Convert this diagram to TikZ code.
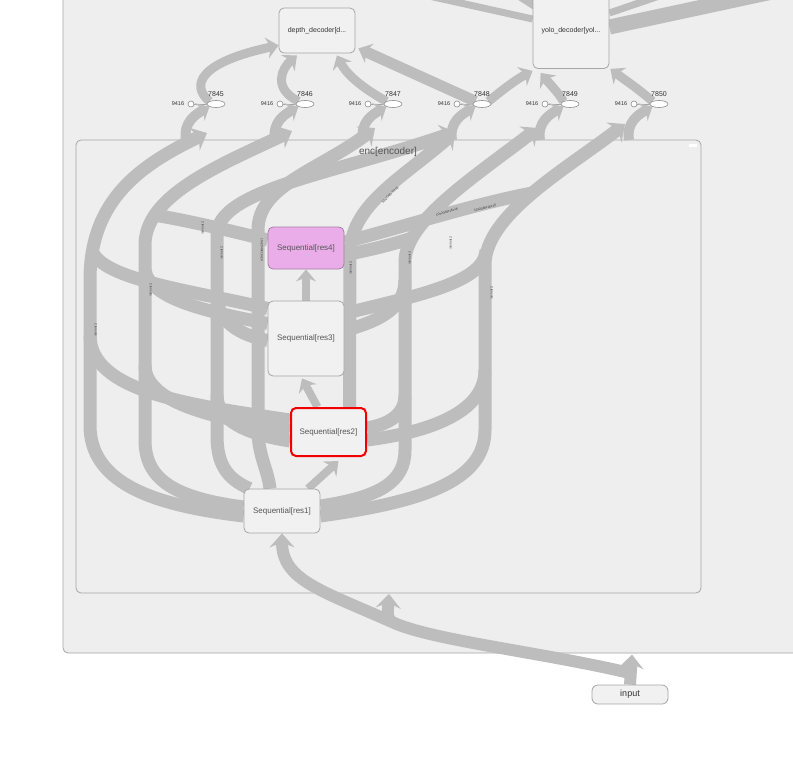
\documentclass[tikz,border=0pt]{standalone}
\usepackage{fontspec}
\setmainfont{Liberation Sans}
\usetikzlibrary{arrows.meta,calc,shapes.geometric}
\pgfdeclarelayer{back}
\pgfdeclarelayer{edges}
\pgfsetlayers{back,edges,main}
\definecolor{edgegray}{HTML}{BDBDBD}
\definecolor{boxfill}{HTML}{EEEEEE}
\definecolor{nodefill}{HTML}{F1F1F1}
\definecolor{boxline}{HTML}{A6A6A6}
\definecolor{pinkfill}{HTML}{EBADEA}
\definecolor{pinkline}{HTML}{A57FA4}
\definecolor{txt}{HTML}{555555}
\definecolor{txtdark}{HTML}{333333}
\definecolor{redline}{HTML}{F20000}
\tikzset{
  opnode/.style={draw=boxline, fill=nodefill, rounded corners=5pt, line width=0.8pt, inner sep=0pt, font=\fontsize{8}{9}\selectfont, text=txt},
  decnode/.style={opnode, font=\fontsize{7}{8}\selectfont, text=txtdark},
  ell/.style={ellipse, draw=boxline!85!black, fill=white, minimum width=18pt, minimum height=7pt, inner sep=0pt, line width=0.6pt},
  const/.style={circle, draw=boxline!85!black, fill=white, minimum size=6pt, inner sep=0pt, line width=0.6pt},
  flow/.style={draw=edgegray, line width=13pt, -{Stealth[length=14pt,width=25pt,inset=5pt]}},
  flowplain/.style={draw=edgegray, line width=13pt},
  flowthin/.style={draw=edgegray, line width=8pt, -{Stealth[length=12pt,width=20pt,inset=4pt]}},
  flowmd/.style={draw=edgegray, line width=9pt, -{Stealth[length=12pt,width=21pt,inset=4pt]}},
  flowsm/.style={draw=edgegray, line width=10pt, -{Stealth[length=11pt,width=20pt,inset=4pt]}},
  thinline/.style={draw=boxline, line width=0.6pt},
  tiny/.style={font=\fontsize{3.2}{3.5}\selectfont, text=txtdark, inner sep=0pt},
  numlabel/.style={font=\fontsize{7}{8}\selectfont, text=txtdark, inner sep=0pt},
  constlabel/.style={font=\fontsize{5.5}{6}\selectfont, text=txtdark, inner sep=0pt}
}
\begin{document}
\begin{tikzpicture}[x=1pt,y=-1pt]
\useasboundingbox (0,0) rectangle (793,756);
\begin{pgfonlayer}{back}
  \fill[white] (0,0) rectangle (793,756);
  \draw[fill=boxfill, draw=boxline, line width=0.8pt, rounded corners=5pt] (63,-20) rectangle (830,653);
  \draw[fill=boxfill, draw=boxline, line width=0.8pt, rounded corners=5pt] (76,140) rectangle (701,593);
  \fill[white] (689,144) rectangle (697,146.5);
\end{pgfonlayer}

% ---------- nodes ----------
\node[font=\fontsize{10}{11}\selectfont, text=txt] (enclabel) at (388,152) {enc[encoder]};
\node[decnode, minimum width=76pt, minimum height=45pt] (depth) at (317,30.5) {depth\_decoder[d...};
\node[decnode, minimum width=76pt, minimum height=75pt] (yolo) at (571,31) {yolo\_decoder[yol...};
\node[opnode, fill=pinkfill, draw=pinkline, minimum width=76pt, minimum height=42pt] (res4) at (306,248) {Sequential[res4]};
\node[opnode, minimum width=76pt, minimum height=75pt] (res3) at (306,338.5) {Sequential[res3]};
\node[opnode, draw=redline, line width=2pt, minimum width=75pt, minimum height=48pt] (res2) at (328.5,432) {Sequential[res2]};
\node[opnode, minimum width=76pt, minimum height=44pt] (res1) at (282,511) {Sequential[res1]};
\node[opnode, rounded corners=6pt, font=\fontsize{9}{10}\selectfont, text=txtdark, minimum width=76pt, minimum height=19pt] (input) at (630,694.5) {input};

\foreach \i/\xe/\num in {1/216/7845, 2/305/7846, 3/393/7847, 4/482/7848, 5/570/7849, 6/659/7850} {
  \node[ell] (e\i) at (\xe,104) {};
  \node[const] (c\i) at (\xe-25,104) {};
  \node[numlabel] (n\i) at (\xe,94) {\num};
  \node[constlabel] (k\i) at (\xe-38,104) {9416};
  \begin{pgfonlayer}{edges}
    \draw[thinline] (c\i) -- (e\i);
    \draw[flowsm] (\xe-30,140) .. controls (\xe-33,122) and (\xe-20,114) .. (e\i.south west);
  \end{pgfonlayer}
}

\coordinate (t1) at (207,133);
\coordinate (t2) at (292,131);
\coordinate (t3) at (375,128);
\coordinate (t4) at (455,132);
\coordinate (t5) at (538,128);
\coordinate (t6) at (625,124);
\coordinate (bend1) at (392,622);

\begin{pgfonlayer}{edges}
  % input
  \draw[flow, line width=12pt] (input.north) -- ($(input.north)+(2,-30)$);
  \draw[flowplain, line width=12pt] ($(input.north)+(-2,-12)$) .. controls (540,652) and (430,640) .. (bend1);
  \draw[flow, line width=12pt] (bend1) .. controls (386,618) and (388,610) .. (389,594);
  \draw[flow, line width=12pt] (bend1) .. controls (320,590) and (282,580) .. (res1.south);
  % chain
  \draw[flowthin] ($(res1.north)+(26,0)$) -- ($(res2.south)+(10,4)$);
  \draw[flowthin] ($(res2.north)+(-11,0)$) -- ($(res3.south)+(-4,2)$);
  \draw[flowthin] (res3.north) -- (res4.south);
  % main strands to the outputs
  \draw[flow] ($(res1.west)+(0,5)$) .. controls (150,505) and (90,482) .. (90,425) -- (90,280) .. controls (90,200) and (140,165) .. (t1);
  \draw[flow] ($(res1.west)+(0,-4)$) .. controls (175,498) and (145,480) .. (145,440) -- (145,245) .. controls (145,195) and (220,165) .. (t2);
  \draw[flow] ($(res1.north west)+(6,0)$) .. controls (225,478) and (217,462) .. (217,435) -- (217,235) .. controls (217,190) and (330,175) .. (t4);
  \draw[flow] ($(res1.north)+(-12,0)$) .. controls (268,470) and (258,455) .. (258,430) -- (258,230) .. controls (258,185) and (320,170) .. (t3);
  \draw[flow] ($(res2.north)+(21,0)$) -- (350,255) .. controls (350,205) and (400,180) .. (t4);
  \draw[flow] ($(res1.east)+(0,-5)$) .. controls (380,497) and (405,482) .. (405,450) -- (405,262) .. controls (405,222) and (470,180) .. (t5);
  \draw[flow] ($(res1.east)+(0,5)$) .. controls (420,502) and (485,482) .. (485,430) -- (485,265) .. controls (485,215) and (565,170) .. (t6);
  % cross bars
  \draw[flowplain] ($(res2.west)+(0,-12)$) .. controls (190,405) and (90,392) .. (90,335);
  \draw[flowplain] ($(res2.west)+(0,-2)$) .. controls (210,418) and (145,402) .. (145,365);
  \draw[flowplain] ($(res2.west)+(0,9)$) .. controls (245,434) and (217,420) .. (217,395);
  \draw[flowplain] ($(res2.east)+(0,-4)$) .. controls (390,424) and (405,414) .. (405,395);
  \draw[flowplain] ($(res2.east)+(0,8)$) .. controls (430,432) and (485,412) .. (485,370);
  \draw[flowplain] ($(res3.west)+(0,-30)$) .. controls (200,292) and (100,280) .. (92,250);
  \draw[flowplain] ($(res3.west)+(0,-15)$) .. controls (210,312) and (150,300) .. (145,270);
  \draw[flowplain] ($(res3.west)+(0,2)$) .. controls (240,335) and (217,322) .. (217,295);
  \draw[flowplain] ($(res3.east)+(0,-25)$) .. controls (420,295) and (485,282) .. (486,250);
  \draw[flowplain] ($(res3.east)+(0,-8)$) .. controls (385,320) and (405,305) .. (405,280);
  \draw[flowplain] ($(res4.west)+(0,-8)$) .. controls (220,228) and (175,218) .. (153,215);
  \draw[flowplain] ($(res4.east)+(0,-6)$) .. controls (400,228) and (470,205) .. (532,193);
  \draw[flowplain] ($(res4.east)+(0,7)$) .. controls (380,248) and (400,242) .. (412,238);
  % to decoders
  \draw[flowmd] (e1.north west) .. controls (190,85) and (200,62) .. ($(depth.south west)+(0,-8)$);
  \draw[flowmd] (e2.north west) .. controls (272,88) and (282,68) .. ($(depth.south)+(-20,2)$);
  \draw[flowmd] (e3.north west) .. controls (370,92) and (348,78) .. ($(depth.south)+(20,2)$);
  \draw[flowmd, line width=11pt] (e4.north west) -- ($(depth.south east)+(3,-5)$);
  \draw[flowmd] (e4.north east) .. controls (500,92) and (515,80) .. ($(yolo.south west)+(0,2)$);
  \draw[flowmd] (e5.north west) .. controls (558,92) and (548,82) .. ($(yolo.south west)+(8,4)$);
  \draw[flowmd] (e6.north west) .. controls (640,90) and (625,80) .. ($(yolo.south east)+(1,0)$);
  % off-picture edges of yolo_decoder
  \draw[flowplain, line width=7pt] (420,-6) -- ($(yolo.west)+(0,-12)$);
  \draw[flowplain, line width=10pt] (515,-8) -- ($(yolo.north west)+(6,14)$);
  \draw[flowplain, line width=7pt] ($(yolo.east)+(0,-18)$) -- (665,-6);
  \draw[flowplain, line width=15pt] ($(yolo.east)+(0,-4)$) -- (800,-14);
\end{pgfonlayer}

% ---------- tiny edge labels ----------
\node[tiny, rotate=-90] (lb1) at (96,330) {2 tensors};
\node[tiny, rotate=-90] (lb2) at (151,290) {2 tensors};
\node[tiny, rotate=-90] (lb3) at (203,228) {2 tensors};
\node[tiny, rotate=-90] (lb4) at (222,253) {2 tensors};
\node[tiny, rotate=-90] (lb5) at (262,250) {10x2048x16x16};
\node[tiny, rotate=-90] (lb6) at (351,268) {2 tensors};
\node[tiny, rotate=-90] (lb7) at (410,258) {2 tensors};
\node[tiny, rotate=-90] (lb8) at (451,243) {2 tensors};
\node[tiny, rotate=-90] (lb9) at (492,293) {2 tensors};
\node[tiny, rotate=16] (lb10) at (447,212) {10x2048x16x16};
\node[tiny, rotate=14] (lb11) at (485,208) {10x2048x16x16};
\node[tiny, rotate=45] (lb12) at (390,195) {10x2048x16x16};
\end{tikzpicture}
\end{document}
